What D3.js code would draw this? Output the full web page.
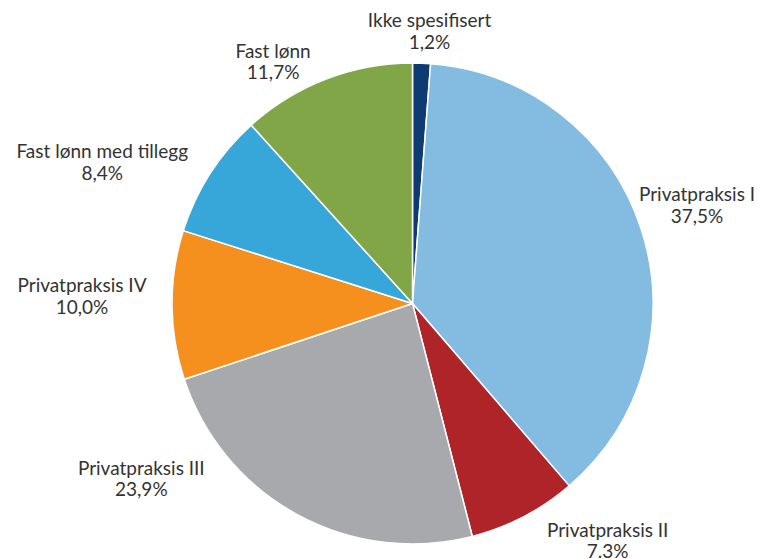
<html>
<head>
<meta charset="utf-8">
<style>
  body { margin: 0; background: #fff; }
  text { font-family: Lato, Roboto, "Liberation Sans", sans-serif; fill: #333; }
</style>
</head>
<body>
<svg id="content"></svg>
<script src="https://cdn.jsdelivr.net/npm/d3@7"></script>
<script>
    let categories = ["Ikke spesifisert", "Privatpraksis I", "Privatpraksis II", "Privatpraksis III",
                      "Privatpraksis IV", "Fast lønn med tillegg", "Fast lønn"];
    let values = [1.2, 37.5, 7.3, 23.9, 10.0, 8.4, 11.7];
    let valueLabels = ["1,2%", "37,5%", "7.3%", "23,9%", "10,0%", "8,4%", "11,7%"];
    let colors = ["#0d3b72", "#84bbe1", "#ae2429", "#a7a9ac", "#f5901f", "#37a6d8", "#80a647"];

    // label nudges from the outer edge of each slice (x, y of first line)
    let labelNudge = [[8, -36], [56, -27], [84, 20], [-156, -40], [-90, -13], [-108, -15], [-53, -21.5]];

    let bodyWidth = 773;
    let bodyHeight = 559;
    let cx = 412.5, cy = 303.5, radius = 240.5;

    let body = d3.select("#content")
                    .attr("width", bodyWidth)
                    .attr("height", bodyHeight);

    let data = categories.map((c, i) => ({name: c, value: values[i], label: valueLabels[i], color: colors[i], nudge: labelNudge[i]}));

    let pie = d3.pie().sort(null).value(d => d.value);
    let arc = d3.arc().innerRadius(0).outerRadius(radius);
    let edge = d3.arc().innerRadius(radius).outerRadius(radius);

    let g = body.append("g").attr("transform", `translate(${cx}, ${cy})`);
    let slices = pie(data);

    g.selectAll("path")
        .data(slices)
        .enter()
        .append("path")
        .attr("d", arc)
        .attr("fill", d => d.data.color)
        .attr("stroke", "#fff")
        .attr("stroke-width", 1.5)
        .attr("stroke-linejoin", "round");

    let labels = g.selectAll("text.lbl")
        .data(slices)
        .enter()
        .append("text")
        .attr("class", "lbl")
        .attr("text-anchor", "middle")
        .attr("font-size", 19)
        .attr("transform", d => {
            let p = edge.centroid(d);
            return `translate(${p[0] + d.data.nudge[0]}, ${p[1] + d.data.nudge[1]})`;
        });

    labels.append("tspan").attr("x", 0).attr("y", 0).text(d => d.data.name);
    labels.append("tspan").attr("x", 0).attr("y", 21.5).text(d => d.data.label);
</script>
</body>
</html>
